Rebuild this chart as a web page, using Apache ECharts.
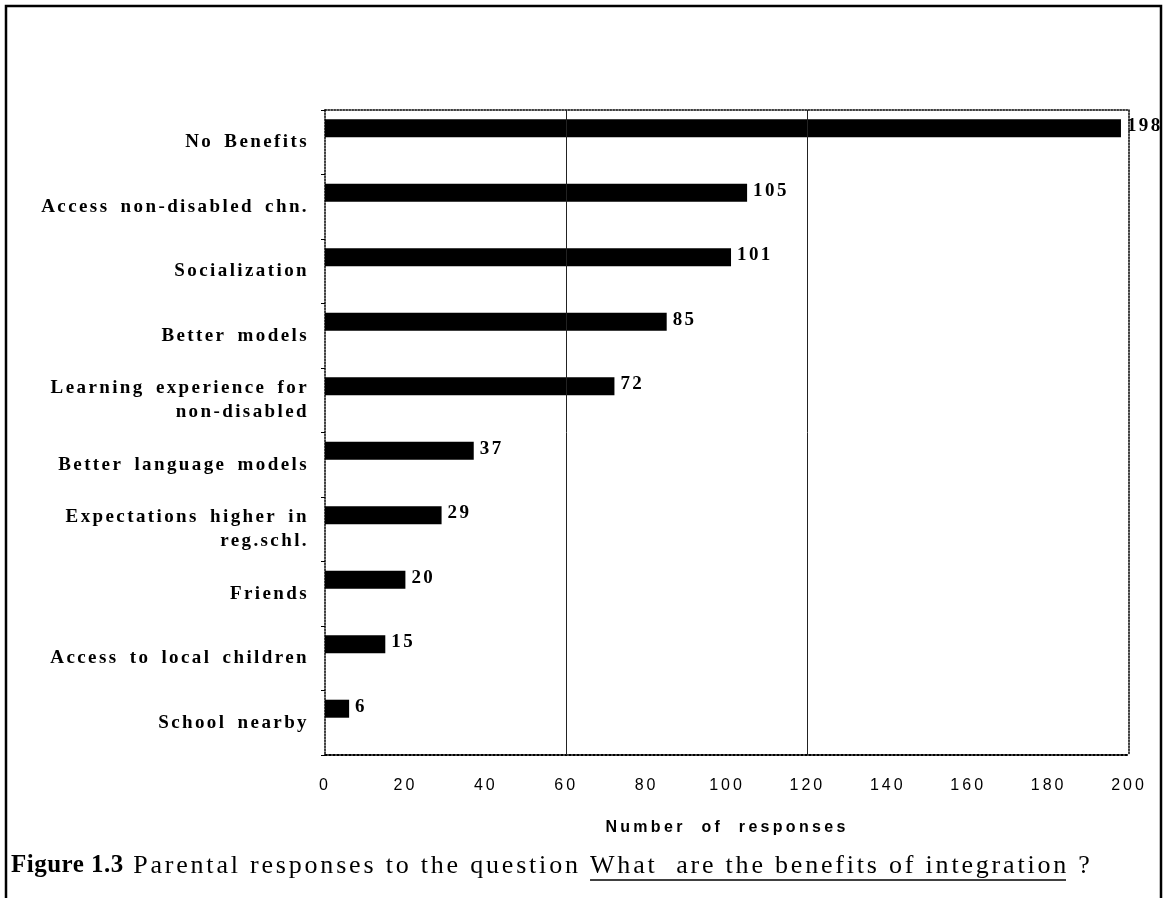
<!DOCTYPE html>
<html>
<head>
<meta charset="utf-8">
<title>Figure 1.3</title>
<script src="https://cdn.jsdelivr.net/npm/echarts@6/dist/echarts.min.js"></script>
<style>
  html, body { margin: 0; padding: 0; background: #fff; }
  #chart { width: 1165px; height: 898px; }
</style>
</head>
<body>
<div id="chart"></div>
<script>
// ---- data ----
const categories = [
  'No Benefits',
  'Access non-disabled chn.',
  'Socialization',
  'Better models',
  'Learning experience for\nnon-disabled',
  'Better language models',
  'Expectations higher in\nreg.schl.',
  'Friends',
  'Access to local children',
  'School nearby'
];
const responses = [198, 105, 101, 85, 72, 37, 29, 20, 15, 6];
const axisMin = 0;
const axisMax = 200;
const axisStep = 20;
const referenceLines = [60, 120];
const axisTitle = 'Number of responses';
const captionParts = [
  { text: 'Figure 1.3', bold: true, size: 25 },
  { text: ' Parental responses to the question ', size: 26 },
  { text: 'What  are the benefits of integration', underline: true, size: 26 },
  { text: ' ?', size: 26 }
];

// ---- typewriter-style tracking (letter, word) for the figure's fonts ----
function trackingFor(font) {
  const bold = /bold|700/.test(font);
  if (font.indexOf('Times New Roman') >= 0) return bold ? [0.5, 0] : [2.8, 0];
  if (font.indexOf('Liberation Serif') >= 0) return [2.4, 4];
  if (font.indexOf('Liberation Sans') >= 0) return bold ? [3.3, 8] : [3, 0];
  return [0, 0];
}
function applyTracking(ctx) {
  const t = trackingFor(ctx.font);
  if ('letterSpacing' in ctx) ctx.letterSpacing = t[0] + 'px';
  if ('wordSpacing' in ctx) ctx.wordSpacing = t[1] + 'px';
}
(function () {
  const proto = CanvasRenderingContext2D.prototype;
  const baseFill = proto.fillText;
  proto.fillText = function (text, x, y, maxWidth) {
    const prevL = this.letterSpacing, prevW = this.wordSpacing;
    applyTracking(this);
    const r = maxWidth === undefined ? baseFill.call(this, text, x, y) : baseFill.call(this, text, x, y, maxWidth);
    if ('letterSpacing' in this) this.letterSpacing = prevL;
    if ('wordSpacing' in this) this.wordSpacing = prevW;
    return r;
  };
})();

const captionFamily = "'Times New Roman', 'Liberation Serif', serif";
const measureCtx = document.createElement('canvas').getContext('2d');
function textWidth(p) {
  measureCtx.font = (p.bold ? 'bold ' : '') + p.size + 'px ' + captionFamily;
  applyTracking(measureCtx);
  return measureCtx.measureText(p.text).width;
}

// caption laid out left to right from its own measured widths
const captionX = 11;
const captionY = 866;
const captionGraphics = [];
let cx = captionX;
captionParts.forEach(function (p) {
  const w = textWidth(p);
  captionGraphics.push({
    type: 'text',
    x: cx,
    y: captionY,
    style: {
      text: p.text,
      fontFamily: captionFamily,
      fontSize: p.size,
      fontWeight: p.bold ? 'bold' : 'normal',
      fill: '#000',
      verticalAlign: 'middle',
      align: 'left'
    }
  });
  if (p.underline) {
    captionGraphics.push({
      type: 'line',
      shape: { x1: cx, y1: captionY + 14, x2: cx + w - 3, y2: captionY + 14 },
      style: { stroke: '#000', lineWidth: 1.5 }
    });
  }
  cx += w;
});

const chart = echarts.init(document.getElementById('chart'), null, { renderer: 'canvas' });

const serifLabel = { fontFamily: 'Liberation Serif', fontWeight: 'bold', fontSize: 19, color: '#000' };
const dotted = { color: '#000', width: 1.5, type: 'dotted' };

chart.setOption({
  animation: false,
  backgroundColor: '#fff',
  grid: { left: 325, right: 36, top: 110, bottom: 143, containLabel: false },
  xAxis: [
    {
      type: 'value',
      min: axisMin,
      max: axisMax,
      interval: axisStep,
      position: 'bottom',
      name: axisTitle,
      nameLocation: 'middle',
      nameGap: 65,
      nameTextStyle: { fontFamily: 'Liberation Sans', fontWeight: 'bold', fontSize: 16, color: '#000' },
      axisLine: { show: true, lineStyle: { color: '#000', width: 2, type: 'dotted' } },
      axisTick: { show: false },
      splitLine: { show: false },
      axisLabel: { margin: 23, fontFamily: 'Liberation Sans', fontSize: 16, color: '#000' }
    },
    {
      type: 'value',
      min: axisMin,
      max: axisMax,
      interval: axisStep,
      position: 'top',
      axisLine: { show: true, onZero: false, lineStyle: dotted },
      axisTick: { show: false },
      splitLine: { show: false },
      axisLabel: { show: false }
    }
  ],
  yAxis: [
    {
      type: 'category',
      data: categories,
      inverse: true,
      position: 'left',
      axisLine: { show: true, onZero: false, lineStyle: dotted },
      axisTick: { show: true, length: 4, lineStyle: { color: '#000', width: 1 } },
      axisLabel: { interval: 0, margin: 16, lineHeight: 24, align: 'right', ...serifLabel }
    },
    {
      type: 'category',
      data: categories,
      inverse: true,
      position: 'right',
      axisLine: { show: true, onZero: false, lineStyle: dotted },
      axisTick: { show: false },
      axisLabel: { show: false }
    }
  ],
  series: [
    {
      name: 'Responses',
      type: 'bar',
      xAxisIndex: 0,
      yAxisIndex: 0,
      data: responses,
      barWidth: 18,
      barGap: '56%',
      itemStyle: { color: '#000' },
      label: {
        show: true,
        position: 'right',
        distance: 6,
        offset: [0, -2],
        ...serifLabel
      },
      markLine: {
        silent: true,
        symbol: 'none',
        label: { show: false },
        lineStyle: { color: '#222', width: 1, type: 'solid' },
        data: referenceLines.map(function (v) { return { xAxis: v }; })
      }
    },
    {
      // empty companion series: keeps each bar in the upper part of its row
      name: 'spacer',
      type: 'bar',
      xAxisIndex: 0,
      yAxisIndex: 0,
      data: categories.map(function () { return '-'; }),
      barWidth: 18,
      itemStyle: { color: 'transparent' }
    }
  ],
  graphic: [
    {
      type: 'rect',
      silent: true,
      shape: { x: 6, y: 6, width: 1155, height: 960 },
      style: { fill: 'none', stroke: '#000', lineWidth: 2.5 }
    }
  ].concat(captionGraphics)
});
</script>
</body>
</html>
